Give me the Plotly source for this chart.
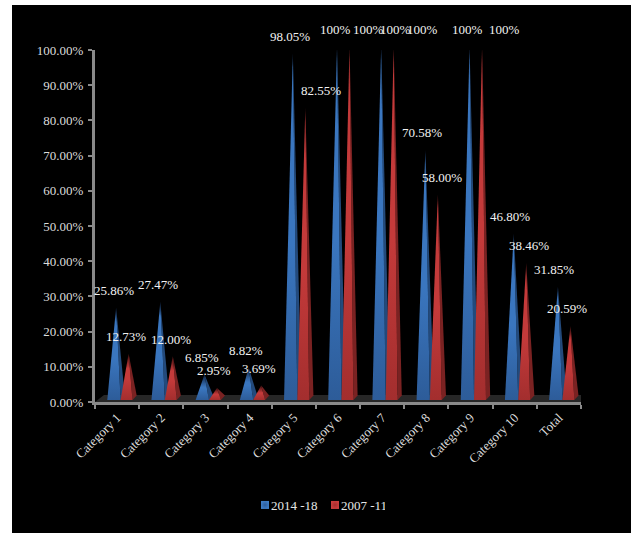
import plotly.graph_objects as go

categories = ["Category 1", "Category 2", "Category 3", "Category 4", "Category 5",
              "Category 6", "Category 7", "Category 8", "Category 9", "Category 10", "Total"]
series_a_name = "2014 -18"
series_a = [25.86, 27.47, 6.85, 8.82, 98.05, 100, 100, 70.58, 100, 46.80, 31.85]
series_b_name = "2007 -11"
series_b = [12.73, 12.00, 2.95, 3.69, 82.55, 100, 100, 58.00, 100, 38.46, 20.59]
y_ticks = list(range(0, 101, 10))
y_tick_labels = [f"{t:.2f}%" for t in y_ticks]

# ---- layout constants (pixels) ----
W, H = 631, 533
PL, PR, PT, PB = 95, 581, 50, 402
PX_X = (PR - PL) / len(categories)
PX_Y = (PB - PT) / 100
SERIF = "Liberation Serif"
labels_dx_a = [-3, -3, -3.5, -3.6, -3.8, -3, 13, -4.4, -3.5, -4.7, -4.9]
labels_dx_b = [9, 10, 8.5, 9.4, 27, 30, 40, 15.6, 33.5, 14.3, 8]

STYLE_A = dict(left=-9.8, right=3.5, apex=-1, low="#2d5c99", mid="#3a76bf", tip="#0c1e3c", side="#234a7c", leg="#3d7cc4")
STYLE_B = dict(left=3.5, right=15.4, apex=11.5, low="#a32e2e", mid="#c43a3a", tip="#3c0e0e", side="#7a2222", leg="#c93c3c")
BASE_UP, APEX_UP, DEPTH_X, DEPTH_Y = 2.0, 3.5, 4.2, 4.5

fig = go.Figure()


def dx(px):
    return px / PX_X


def dy(px):
    return px / PX_Y


# floor of the 3D chart
fig.add_trace(go.Scatter(
    x=[-0.5, 10.5, 10.5 + dx(9), -0.5 + dx(9), -0.5],
    y=[0, 0, dy(7), dy(7), 0],
    mode="lines", line=dict(width=0), fill="toself", fillcolor="#272727",
    hoverinfo="skip", showlegend=False, cliponaxis=False))


def pyramid(i, v, s, group):
    apex_x = i + dx(s["apex"])
    apex_y = v + dy(APEX_UP)
    # side face
    fig.add_trace(go.Scatter(
        x=[i + dx(s["right"]), i + dx(s["right"] + DEPTH_X), apex_x, i + dx(s["right"])],
        y=[dy(BASE_UP), dy(BASE_UP + DEPTH_Y), apex_y, dy(BASE_UP)],
        mode="lines", line=dict(width=0), fill="toself", fillcolor=s["side"],
        hoverinfo="skip", showlegend=False, legendgroup=group, cliponaxis=False))
    # front face with vertical gradient
    height_px = v * PX_Y
    fade = min(0.5, 14 / height_px)
    fig.add_trace(go.Scatter(
        x=[i + dx(s["left"]), i + dx(s["right"]), apex_x, i + dx(s["left"])],
        y=[dy(BASE_UP), dy(BASE_UP), apex_y, dy(BASE_UP)],
        mode="lines", line=dict(width=0), fill="toself",
        fillgradient=dict(type="vertical",
                          colorscale=[[0, s["low"]], [0.45, s["mid"]], [1 - fade, s["mid"]], [1, s["tip"]]]),
        hoverinfo="skip", showlegend=False, legendgroup=group, cliponaxis=False))


for i, (a, b) in enumerate(zip(series_a, series_b)):
    pyramid(i, a, STYLE_A, series_a_name)
    pyramid(i, b, STYLE_B, series_b_name)

# legend entries
for name, s in ((series_a_name, STYLE_A), (series_b_name, STYLE_B)):
    fig.add_trace(go.Scatter(
        x=[None], y=[None], mode="markers", name=name, legendgroup=name,
        marker=dict(symbol="square", size=8, color=s["leg"], line=dict(width=0),
                    gradient=dict(type="radial", color=s["low"]))))


def fmt(v):
    return "100%" if v == 100 else f"{v:.2f}%"


annotations = []
for values, offs in ((series_a, labels_dx_a), (series_b, labels_dx_b)):
    for i, (v, off) in enumerate(zip(values, offs)):
        annotations.append(dict(
            x=i, y=v, xref="x", yref="y", text=fmt(v), showarrow=False,
            xanchor="center", yanchor="middle", xshift=off, yshift=20.7,
            font=dict(family=SERIF, size=13, color="#f2f2f2")))

fig.update_layout(
    width=W, height=H, autosize=False,
    margin=dict(l=0, r=0, t=0, b=0, autoexpand=False),
    paper_bgcolor="white", plot_bgcolor="rgba(0,0,0,0)",
    shapes=[dict(type="rect", xref="paper", yref="paper", layer="below",
                 x0=12 / W, x1=1, y0=0, y1=1 - 5 / H,
                 fillcolor="black", line=dict(width=0))],
    annotations=annotations,
    xaxis=dict(
        domain=[PL / W, PR / W], range=[-0.5, 10.5], automargin=False,
        tickmode="array", tickvals=list(range(len(categories))), ticktext=categories,
        tickangle=-45, ticks="", showgrid=False, zeroline=False,
        showline=True, linecolor="#8a8a8a", linewidth=3,
        tickfont=dict(family=SERIF, size=13, color="#dcdcdc"),
        minor=dict(tickmode="array", tickvals=[i - 0.5 for i in range(len(categories) + 1)],
                   ticks="outside", ticklen=4, tickwidth=1.5, tickcolor="#8a8a8a", showgrid=False),
    ),
    yaxis=dict(
        domain=[1 - PB / H, 1 - PT / H], range=[0, 100], automargin=False,
        tickmode="array", tickvals=y_ticks, ticktext=y_tick_labels,
        ticks="outside", ticklen=4, tickwidth=1.5, tickcolor="#8a8a8a", ticklabelstandoff=2,
        showgrid=False, zeroline=False, showline=True, linecolor="#8a8a8a", linewidth=3,
        tickfont=dict(family=SERIF, size=13, color="#dcdcdc"),
    ),
    legend=dict(orientation="h", xref="container", yref="container",
                x=245 / W, xanchor="left", y=1 - 505 / H, yanchor="middle",
                bgcolor="rgba(0,0,0,0)", entrywidth=25, entrywidthmode="pixels",
                font=dict(family=SERIF, size=13, color="#e6e6e6")),
)

post = """
document.body.style.margin = '0';
document.querySelectorAll('.legendtext').forEach(function (t) { t.setAttribute('x', '26'); });
"""
fig.write_html("out.html", post_script=post, config={"displayModeBar": False})
